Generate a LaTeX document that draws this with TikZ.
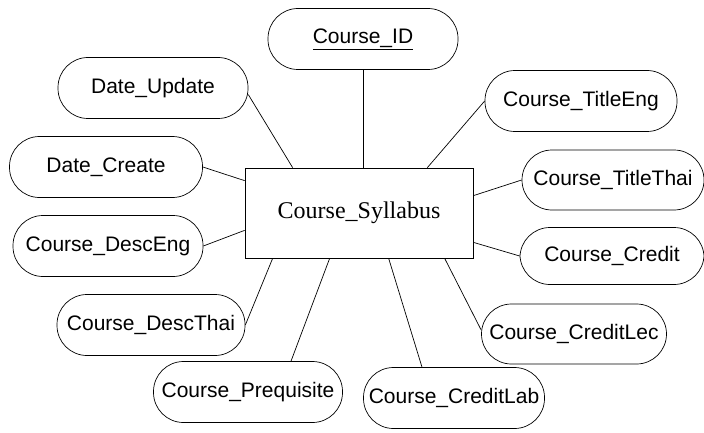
\documentclass[tikz,border=0pt]{standalone}
\usepackage{fontspec}
\setmainfont{Liberation Serif}
\newfontfamily\attrfont{Liberation Sans}
\usepackage{tikz}
\tikzset{attr/.style={draw, line width=0.7pt, rounded corners=30pt, minimum width=190pt, minimum height=61pt, inner sep=0pt, font=\attrfont\fontsize{21}{25}\selectfont}}
\tikzset{entity/.style={draw, line width=0.7pt, minimum width=228pt, minimum height=90pt, inner sep=0pt, font=\fontsize{24}{28}\selectfont}}

\begin{document}
\begin{tikzpicture}[line width=0.7pt]
  \useasboundingbox (0pt, 0pt) rectangle (704pt, 432pt);

  \node (syl) [entity] at (359pt, 219pt) {Course\_Syllabus};

  \node (id) [attr] at (363pt, 393pt) {\underline{Course\_ID}};
  \node (dup) [attr] at (153pt, 344pt) {Date\_Update};
  \node (dcr) [attr, minimum width=193pt] at (106pt, 265pt) {Date\_Create};
  \node (deng) [attr] at (108pt, 186pt) {Course\_DescEng};
  \node (dthai) [attr, minimum width=188pt] at (151pt, 107pt) {Course\_DescThai};
  \node (preq) [attr, minimum width=189pt] at (248pt, 40pt) {Course\_Prequisite};
  \node (lab) [attr, minimum width=181pt] at (454pt, 34pt) {Course\_CreditLab};
  \node (lec) [attr, minimum width=185pt, minimum height=60pt] at (574pt, 98pt) {Course\_CreditLec};
  \node (cred) [attr, minimum width=184pt, minimum height=57pt] at (612pt, 176pt) {Course\_Credit};
  \node (tthai) [attr, minimum width=182pt, minimum height=60pt] at (613pt, 252pt) {Course\_TitleThai};
  \node (teng) [attr, minimum width=192pt] at (581pt, 331pt) {Course\_TitleEng};

  \draw (id.south) -- (id.south |- syl.north);
  \draw (dup.-4) -- ([xshift=48pt]syl.north west);
  \draw (dcr.east) -- ([yshift=-13pt]syl.north west);
  \draw (deng.east) -- ([yshift=28pt]syl.south west);
  \draw (dthai.east) -- ([xshift=28pt]syl.south west);
  \draw ([xshift=43pt]preq.north) -- ([xshift=85pt]syl.south west);
  \draw ([xshift=-32pt]lab.north) -- ([xshift=144pt]syl.south west);
  \draw ([yshift=4pt]lec.west) -- ([xshift=200pt]syl.south west);
  \draw (cred.west) -- ([yshift=16pt]syl.south east);
  \draw (tthai.west) -- ([yshift=-28pt]syl.north east);
  \draw (teng.west) -- ([xshift=-46pt]syl.north east);
\end{tikzpicture}
\end{document}
